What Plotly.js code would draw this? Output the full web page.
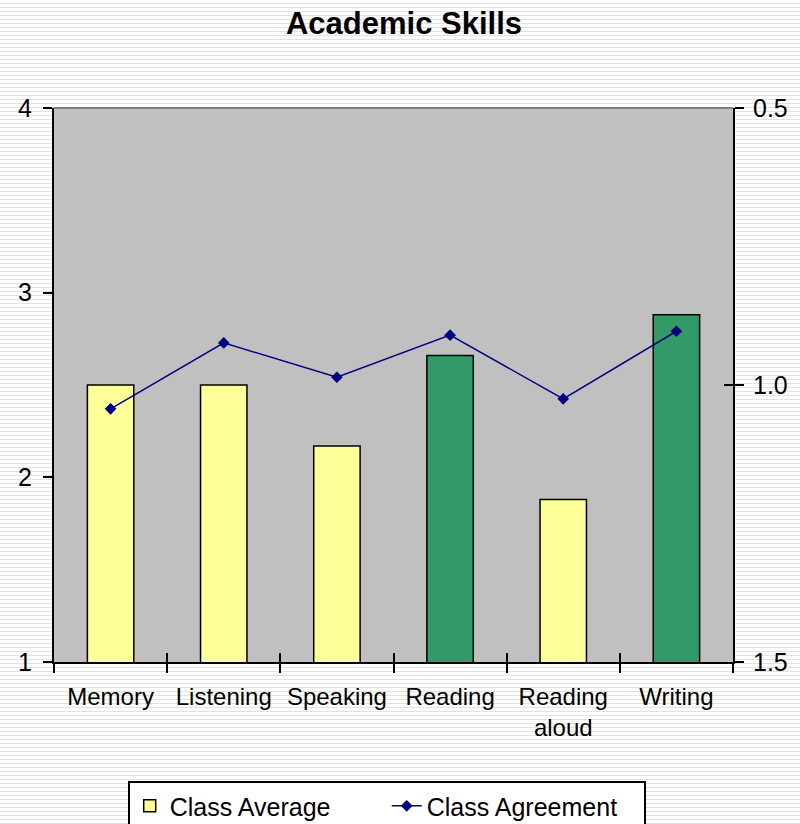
<!DOCTYPE html>
<html>
<head>
<meta charset="utf-8">
<script src="https://cdn.plot.ly/plotly-3.0.1.min.js"></script>
<style>
html, body { margin:0; padding:0; }
body {
  width:800px; height:824px; overflow:hidden;
  background: repeating-linear-gradient(to bottom, #ffffff 0px, #ffffff 3px, #e2e2e2 3px, #e2e2e2 4px);
}
#chart { width:800px; height:824px; }
</style>
</head>
<body>
<div id="chart"></div>
<script>
const categories = ["Memory", "Listening", "Speaking", "Reading", "Reading<br>aloud", "Writing"];
const classAverage = [2.5, 2.5, 2.17, 2.66, 1.88, 2.88];
const classAgreement = [1.043, 0.924, 0.986, 0.910, 1.025, 0.903];
const barColors = ["#FFFF99", "#FFFF99", "#FFFF99", "#339966", "#FFFF99", "#339966"];
const leftTicks = [1, 2, 3, 4];
const rightTicks = [0.5, 1.0, 1.5];

const FONT = "Liberation Sans, Arial, sans-serif";

const traces = [
  {
    type: "bar",
    name: "Class Average",
    x: categories,
    y: classAverage,
    marker: { color: barColors, line: { color: "#000000", width: 1.5 } },
    yaxis: "y",
    hoverinfo: "x+y"
  },
  {
    type: "scatter",
    mode: "lines+markers",
    name: "Class Agreement",
    x: categories,
    y: classAgreement,
    yaxis: "y2",
    line: { color: "#000080", width: 1.5 },
    marker: { symbol: "diamond", size: 9, color: "#000080" }
  },
  {
    // carrier for the inner half of the crossing tick marks (draws nothing)
    type: "bar",
    x: categories,
    y: classAgreement,
    xaxis: "x2",
    yaxis: "y3",
    marker: { color: "rgba(0,0,0,0)", line: { width: 0 } },
    showlegend: false,
    hoverinfo: "skip"
  }
];

const tickCommon = {
  showgrid: false, zeroline: false, fixedrange: true,
  showline: true, linecolor: "#000000", linewidth: 2,
  ticklen: 9, tickwidth: 2, tickcolor: "#000000"
};

const layout = {
  width: 800,
  height: 824,
  margin: { l: 54, r: 67, t: 108, b: 162, autoexpand: false },
  paper_bgcolor: "rgba(0,0,0,0)",
  plot_bgcolor: "#C0C0C0",
  font: { family: FONT, color: "#000000", size: 24 },
  title: {
    text: "<b>Academic Skills</b>",
    font: { family: FONT, size: 31, color: "#000000" },
    x: 0.505, xanchor: "center", y: 0.972, yanchor: "middle"
  },
  bargap: 0.59,
  showlegend: true,
  legend: {
    orientation: "h",
    x: 0.49, xanchor: "center",
    y: -0.215, yanchor: "top",
    bgcolor: "#ffffff",
    bordercolor: "#000000",
    borderwidth: 2,
    entrywidth: 212,
    font: { family: FONT, size: 25, color: "#000000" },
    traceorder: "normal"
  },
  xaxis: Object.assign({}, tickCommon, {
    type: "category",
    tickangle: 0,
    ticks: "outside",
    tickson: "boundaries",
    ticklabelstandoff: 12,
    tickfont: { family: FONT, size: 24 }
  }),
  xaxis2: Object.assign({}, tickCommon, {
    overlaying: "x",
    anchor: "y3",
    side: "bottom",
    type: "category",
    tickson: "boundaries",
    ticks: "inside",
    showticklabels: false
  }),
  yaxis: Object.assign({}, tickCommon, {
    range: [1, 4],
    tickvals: leftTicks,
    ticks: "outside",
    ticklabelstandoff: 6,
    tickfont: { family: FONT, size: 25 }
  }),
  yaxis2: Object.assign({}, tickCommon, {
    overlaying: "y",
    side: "right",
    range: [1.5, 0.5],
    tickvals: rightTicks,
    tickformat: ".1f",
    ticks: "outside",
    ticklabelstandoff: 4,
    tickfont: { family: FONT, size: 25 }
  }),
  yaxis3: Object.assign({}, tickCommon, {
    overlaying: "y",
    anchor: "x2",
    side: "right",
    range: [1.5, 0.5],
    tickvals: rightTicks,
    ticks: "inside",
    showticklabels: false
  }),
  shapes: [
    { type: "line", xref: "paper", yref: "paper", x0: 0, x1: 1, y0: 1, y1: 1,
      line: { color: "#808080", width: 2 } }
  ]
};

Plotly.newPlot("chart", traces, layout, { displayModeBar: false, staticPlot: true });
</script>
</body>
</html>
